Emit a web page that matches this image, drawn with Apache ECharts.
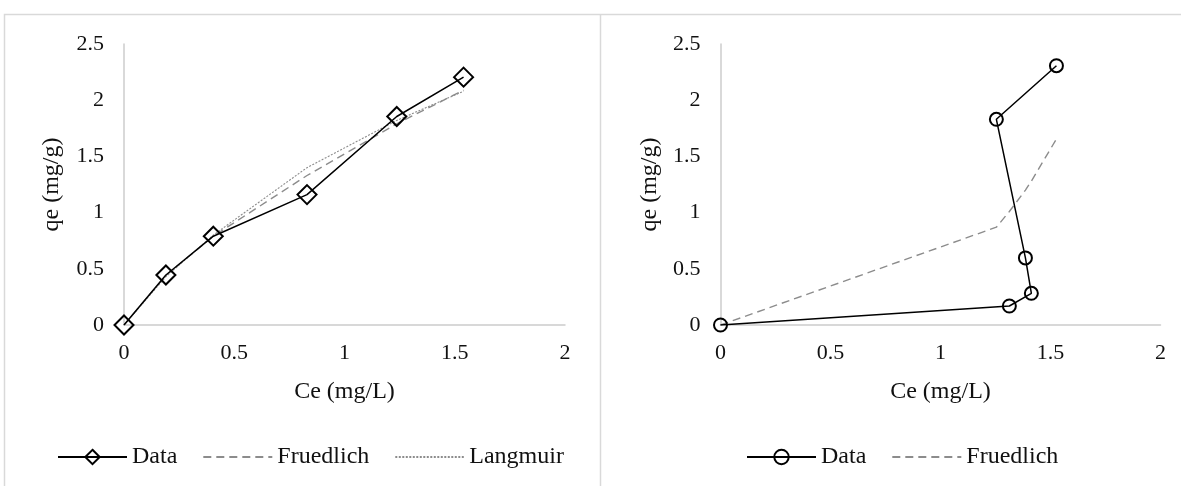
<!DOCTYPE html>
<html>
<head>
<meta charset="utf-8">
<script src="https://cdn.jsdelivr.net/npm/echarts/dist/echarts.min.js"></script>
<style>
  html, body { margin: 0; padding: 0; background: #ffffff; }
  #wrap { position: relative; width: 1181px; height: 486px; overflow: hidden; }
  #left { position: absolute; left: 0; top: 0; width: 600px; height: 486px; }
  #right { position: absolute; left: 600px; top: 0; width: 581px; height: 486px; }
</style>
</head>
<body>
<div id="wrap">
  <div id="left"></div>
  <div id="right"></div>
</div>
<script>
// Isotherm panel 1: measured points with Freundlich and Langmuir fits
const leftCe = [0, 0.19, 0.405, 0.83, 1.237, 1.54];
const leftQe = [0, 0.445, 0.79, 1.16, 1.855, 2.205];
const leftFreundlich = [0, 0.44, 0.79, 1.33, 1.79, 2.09];
const leftLangmuir = [0, 0.43, 0.80, 1.40, 1.82, 2.08];

// Isotherm panel 2: measured points with Freundlich fit
const rightCe = [0, 1.313, 1.413, 1.386, 1.254, 1.527];
const rightQe = [0, 0.169, 0.282, 0.597, 1.83, 2.307];
const rightFreundCe = [0, 1.254, 1.313, 1.386, 1.413, 1.527];
const rightFreundQe = [0, 0.87, 1.01, 1.20, 1.28, 1.655];

const xTicks = { min: 0, max: 2, interval: 0.5 };
const yTicks = { min: 0, max: 2.5, interval: 0.5 };
const xTitle = 'Ce (mg/L)';
const yTitle = 'qe (mg/g)';

const FONT = '"Liberation Serif", "Times New Roman", serif';
const AXIS_GRAY = '#cccccc';
const BORDER_GRAY = '#d9d9d9';

function pairs(xs, ys) {
  return xs.map((x, i) => [x, ys[i]]);
}

function xAxisOpt() {
  return {
    type: 'value',
    min: xTicks.min, max: xTicks.max, interval: xTicks.interval,
    name: xTitle, nameLocation: 'middle', nameGap: 55,
    nameTextStyle: { fontFamily: FONT, fontSize: 24, color: '#111' },
    axisLine: { show: true, onZero: false, lineStyle: { color: AXIS_GRAY, width: 1.5 } },
    axisTick: { show: false },
    splitLine: { show: false },
    axisLabel: { margin: 17, fontFamily: FONT, fontSize: 22, color: '#111' }
  };
}

function yAxisOpt(gap) {
  return {
    type: 'value',
    min: yTicks.min, max: yTicks.max, interval: yTicks.interval,
    name: yTitle, nameLocation: 'middle', nameGap: gap, nameRotate: 90,
    nameTextStyle: { fontFamily: FONT, fontSize: 24, color: '#111' },
    axisLine: { show: true, onZero: false, lineStyle: { color: AXIS_GRAY, width: 1.5 } },
    axisTick: { show: false },
    splitLine: { show: false },
    axisLabel: { margin: 20, fontFamily: FONT, fontSize: 22, color: '#111' }
  };
}

function legendOpt(left, names) {
  return {
    left: left, top: 445, padding: 0,
    itemWidth: 69, itemHeight: 18, itemGap: 25,
    textStyle: { fontFamily: FONT, fontSize: 24, color: '#111' },
    data: names
  };
}

const dataStyle = {
  type: 'line',
  z: 5,
  lineStyle: { color: '#000', width: 1.5 },
  itemStyle: { color: 'rgba(255,255,255,0)', borderColor: '#000', borderWidth: 2 },
  emphasis: { disabled: true },
  animation: false
};

const leftChart = echarts.init(document.getElementById('left'), null, { renderer: 'canvas' });
leftChart.setOption({
  animation: false,
  graphic: [
    { type: 'rect', shape: { x: 4.5, y: 14.5, width: 596, height: 520 },
      style: { fill: 'none', stroke: BORDER_GRAY, lineWidth: 1.5 }, silent: true }
  ],
  grid: { left: 124, top: 44, width: 441, height: 281 },
  xAxis: xAxisOpt(),
  yAxis: yAxisOpt(60),
  legend: legendOpt(57, [
    { name: 'Data' },
    { name: 'Fruedlich', itemStyle: { opacity: 0 } },
    { name: 'Langmuir', itemStyle: { opacity: 0 } }
  ]),
  series: [
    Object.assign({}, dataStyle, {
      name: 'Data', symbol: 'diamond', symbolSize: 19,
      data: pairs(leftCe, leftQe)
    }),
    {
      name: 'Fruedlich', type: 'line', symbol: 'none', z: 3,
      lineStyle: { color: '#8c8c8c', width: 1.4, type: [8, 5] },
      itemStyle: { color: '#8c8c8c' },
      data: pairs(leftCe, leftFreundlich)
    },
    {
      name: 'Langmuir', type: 'line', symbol: 'none', z: 3,
      lineStyle: { color: '#8c8c8c', width: 1.1, type: [2, 1.5] },
      itemStyle: { color: '#8c8c8c' },
      data: pairs(leftCe, leftLangmuir)
    }
  ]
});

const rightChart = echarts.init(document.getElementById('right'), null, { renderer: 'canvas' });
rightChart.setOption({
  animation: false,
  graphic: [
    { type: 'rect', shape: { x: 0.5, y: 14.5, width: 620, height: 520 },
      style: { fill: 'none', stroke: BORDER_GRAY, lineWidth: 1.5 }, silent: true }
  ],
  grid: { left: 120.5, top: 44, width: 440, height: 281 },
  xAxis: xAxisOpt(),
  yAxis: yAxisOpt(51),
  legend: legendOpt(146, [
    { name: 'Data' },
    { name: 'Fruedlich', itemStyle: { opacity: 0 } }
  ]),
  series: [
    Object.assign({}, dataStyle, {
      name: 'Data', symbol: 'circle', symbolSize: 13,
      data: pairs(rightCe, rightQe)
    }),
    {
      name: 'Fruedlich', type: 'line', symbol: 'none', z: 3,
      lineStyle: { color: '#8c8c8c', width: 1.4, type: [8, 5] },
      itemStyle: { color: '#8c8c8c' },
      data: pairs(rightFreundCe, rightFreundQe)
    }
  ]
});
</script>
</body>
</html>
